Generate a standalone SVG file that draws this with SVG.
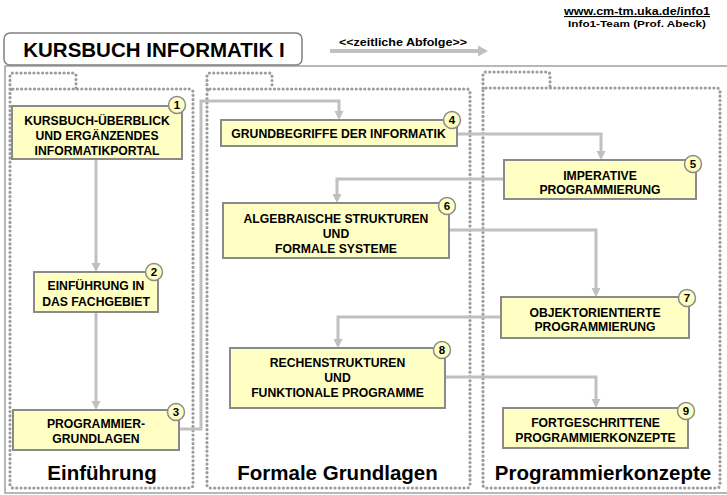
<svg xmlns="http://www.w3.org/2000/svg" width="727" height="495" viewBox="0 0 727 495">
<defs>
<style>
.frame{fill:none;stroke:#a0a0a0;stroke-width:1.5}
.title{fill:#fff;stroke:#808080;stroke-width:1.5}
.dot{fill:none;stroke:#9c9c9c;stroke-width:3.2;stroke-dasharray:0 4.3;stroke-linecap:round;stroke-linejoin:round}
.node{fill:#ffffc4;stroke:#8a8a8a;stroke-width:2}
.badge{fill:#ffffc4;stroke:#8a8a8a;stroke-width:1.5}
.t{font-family:"Liberation Sans",Arial,sans-serif;font-weight:bold;fill:#000}
.nt{font-size:12.2px;text-anchor:middle}
.bn{font-size:11.5px;text-anchor:middle}
.sec{font-size:20.5px;text-anchor:middle}
.con{fill:none;stroke:#c0c0c0;stroke-width:3}
</style>
<marker id="ah" markerWidth="10" markerHeight="10" refX="6" refY="5" orient="auto" markerUnits="userSpaceOnUse">
<path d="M0,0.5 L9,5 L0,9.5 Z" fill="#c0c0c0"/>
</marker>
<marker id="ah2" markerWidth="12" markerHeight="12" refX="6" refY="6" orient="auto" markerUnits="userSpaceOnUse">
<path d="M0,0.5 L10,6 L0,11.5 Z" fill="#c0c0c0"/>
</marker>
</defs>

<g id="header">
<text class="t" x="637" y="15" font-size="11" text-anchor="middle" text-decoration="underline" textLength="146" lengthAdjust="spacingAndGlyphs">www.cm-tm.uka.de/info1</text>
<text class="t" x="637" y="27" font-size="9.5" text-anchor="middle" textLength="138" lengthAdjust="spacingAndGlyphs">Info1-Team (Prof. Abeck)</text>
<text class="t" x="403" y="46" font-size="10.5" text-anchor="middle" textLength="128" lengthAdjust="spacingAndGlyphs">&lt;&lt;zeitliche Abfolge&gt;&gt;</text>
<line x1="330" y1="51" x2="484" y2="51" stroke="#c0c0c0" stroke-width="4" marker-end="url(#ah2)"/>
</g>

<g id="frame">
<rect class="frame" x="5" y="66" width="740" height="427"/>
<rect class="title" x="4" y="33" width="298" height="32" rx="6"/>
<text class="t" x="154" y="57.3" font-size="20.5" text-anchor="middle">KURSBUCH INFORMATIK I</text>
</g>

<g id="section-einfuehrung">
<path class="dot" d="M10,89 V76 Q10,73 13,73 H73 Q76,73 76,76 V89"/>
<rect class="dot" x="10" y="89" width="183" height="399" rx="3"/>
<text class="t sec" x="102" y="480">Einführung</text>
</g>
<g id="section-formale-grundlagen">
<path class="dot" d="M207,89 V76 Q207,73 210,73 H269 Q272,73 272,76 V89"/>
<rect class="dot" x="207" y="89" width="263" height="399" rx="3"/>
<text class="t sec" x="337.5" y="480">Formale Grundlagen</text>
</g>
<g id="section-programmierkonzepte">
<path class="dot" d="M483,88 V75 Q483,72 486,72 H547 Q550,72 550,75 V88"/>
<rect class="dot" x="483" y="88" width="237" height="400" rx="3"/>
<text class="t sec" x="603" y="480">Programmierkonzepte</text>
</g>

<g id="connectors">
<path class="con" d="M96,160 V269" marker-end="url(#ah)"/>
<path class="con" d="M96,313 V407" marker-end="url(#ah)"/>
<path class="con" d="M180,429 H201 V101 H339 V117" marker-end="url(#ah)"/>
<path class="con" d="M458,134 H601 V157" marker-end="url(#ah)"/>
<path class="con" d="M503,179 H337 V200" marker-end="url(#ah)"/>
<path class="con" d="M450,230 H596 V294" marker-end="url(#ah)"/>
<path class="con" d="M500,317 H338 V345" marker-end="url(#ah)"/>
<path class="con" d="M446,377 H596 V405" marker-end="url(#ah)"/>
</g>

<g id="node1">
<rect class="node" x="12" y="106" width="170" height="53"/>
<text class="t nt" x="97" y="125.3">KURSBUCH-ÜBERBLICK</text>
<text class="t nt" x="97" y="140">UND ERGÄNZENDES</text>
<text class="t nt" x="97" y="155">INFORMATIKPORTAL</text>
<circle class="badge" cx="177" cy="105" r="8.5"/>
<text class="t bn" x="177" y="109">1</text>
</g>
<g id="node2">
<rect class="node" x="34" y="272" width="124" height="40"/>
<text class="t nt" x="96" y="290.3">EINFÜHRUNG IN</text>
<text class="t nt" x="96" y="306.3">DAS FACHGEBIET</text>
<circle class="badge" cx="154" cy="272" r="8.5"/>
<text class="t bn" x="154" y="276">2</text>
</g>
<g id="node3">
<rect class="node" x="13" y="410" width="166" height="40"/>
<text class="t nt" x="96" y="428.3">PROGRAMMIER-</text>
<text class="t nt" x="96" y="443.3">GRUNDLAGEN</text>
<circle class="badge" cx="176" cy="412" r="8.5"/>
<text class="t bn" x="176" y="416">3</text>
</g>
<g id="node4">
<rect class="node" x="221" y="120" width="236" height="26"/>
<text class="t nt" x="338.5" y="138.3">GRUNDBEGRIFFE DER INFORMATIK</text>
<circle class="badge" cx="452" cy="120" r="8.5"/>
<text class="t bn" x="452" y="124">4</text>
</g>
<g id="node5">
<rect class="node" x="504" y="160" width="192" height="39"/>
<text class="t nt" x="600" y="179.5">IMPERATIVE</text>
<text class="t nt" x="600" y="194">PROGRAMMIERUNG</text>
<circle class="badge" cx="693" cy="164" r="8.5"/>
<text class="t bn" x="693" y="168">5</text>
</g>
<g id="node6">
<rect class="node" x="223" y="203" width="226" height="55"/>
<text class="t nt" x="336" y="223.3">ALGEBRAISCHE STRUKTUREN</text>
<text class="t nt" x="336" y="238.3">UND</text>
<text class="t nt" x="336" y="253.3">FORMALE SYSTEME</text>
<circle class="badge" cx="447" cy="206" r="8.5"/>
<text class="t bn" x="447" y="210">6</text>
</g>
<g id="node7">
<rect class="node" x="501" y="297" width="188" height="41"/>
<text class="t nt" x="595" y="316.5">OBJEKTORIENTIERTE</text>
<text class="t nt" x="595" y="331">PROGRAMMIERUNG</text>
<circle class="badge" cx="687" cy="298" r="8.5"/>
<text class="t bn" x="687" y="302">7</text>
</g>
<g id="node8">
<rect class="node" x="230" y="348" width="215" height="60"/>
<text class="t nt" x="337.5" y="367.3">RECHENSTRUKTUREN</text>
<text class="t nt" x="337.5" y="381.8">UND</text>
<text class="t nt" x="337.5" y="396.8">FUNKTIONALE PROGRAMME</text>
<circle class="badge" cx="442" cy="350" r="8.5"/>
<text class="t bn" x="442" y="354">8</text>
</g>
<g id="node9">
<rect class="node" x="503" y="408" width="185" height="40"/>
<text class="t nt" x="595.5" y="427.3">FORTGESCHRITTENE</text>
<text class="t nt" x="595.5" y="441.8">PROGRAMMIERKONZEPTE</text>
<circle class="badge" cx="686" cy="411" r="8.5"/>
<text class="t bn" x="686" y="415">9</text>
</g>
</svg>
